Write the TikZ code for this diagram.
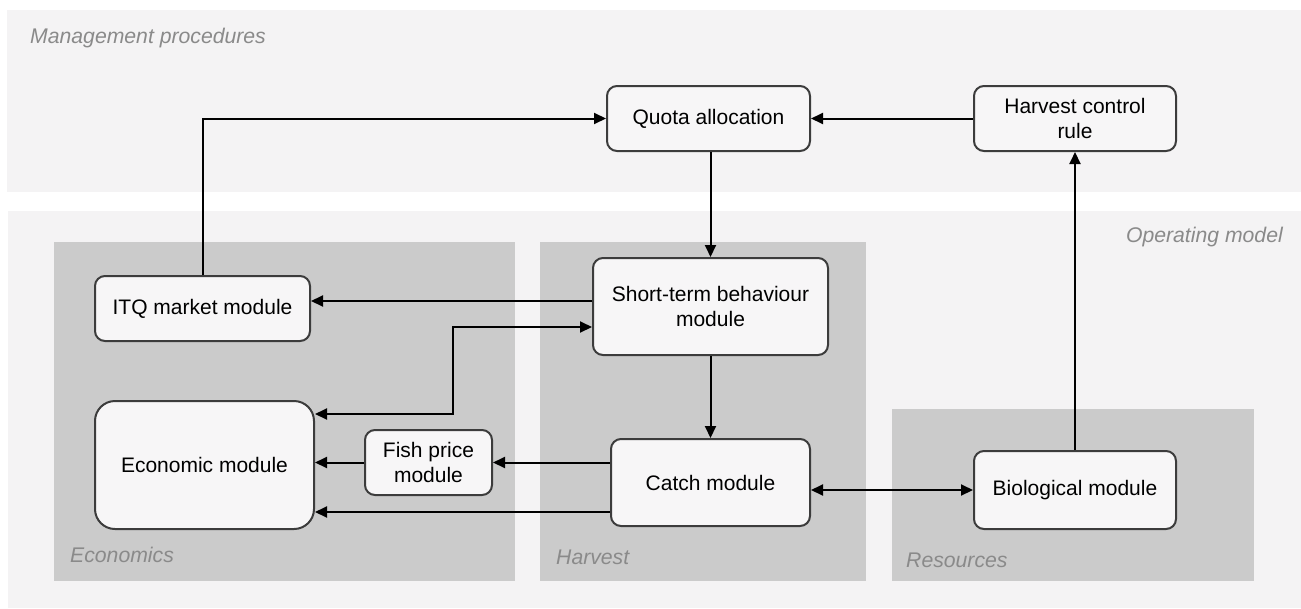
\documentclass[tikz,border=0pt]{standalone}
\usepackage{fontspec}
\setmainfont{Liberation Sans}
\usepackage{tikz}
\usetikzlibrary{arrows.meta}

\definecolor{panellight}{HTML}{F4F3F4}
\definecolor{paneldark}{HTML}{CBCBCB}
\definecolor{boxfill}{HTML}{F7F6F7}
\definecolor{boxline}{HTML}{3C3C3C}
\definecolor{labelgray}{HTML}{8A8A8A}

\begin{document}
\begin{tikzpicture}[x=1pt,y=-1pt,
  module/.style={draw=boxline, fill=boxfill, line width=2pt, rounded corners=10pt,
    align=center, inner sep=0pt, font=\fontsize{21}{25}\selectfont},
  arr/.style={line width=2pt, -{Triangle[length=12pt,width=11pt]}},
  arrboth/.style={line width=2pt, {Triangle[length=12pt,width=11pt]}-{Triangle[length=12pt,width=11pt]}},
  area/.style={inner sep=0pt, text=labelgray, font=\fontsize{21.2}{25}\selectfont\itshape}]
\useasboundingbox (0,0) rectangle (1301,608);

% Background panels
\fill[panellight] (7,10) rectangle (1301,192);
\fill[panellight] (8,211) rectangle (1301,608);
\fill[paneldark] (54,242) rectangle (515,581);
\fill[paneldark] (540,242) rectangle (866,581);
\fill[paneldark] (892,409) rectangle (1254,581);

% Panel labels
\node[area, anchor=base west] (mgmtlbl) at (30,43) {Management procedures};
\node[area, anchor=base east] (oplbl) at (1283,242) {Operating model};
\node[area, anchor=base west] (econlbl) at (70,562) {Economics};
\node[area, anchor=base west] (harvlbl) at (556,564) {Harvest};
\node[area, anchor=base west] (reslbl) at (906,567) {Resources};

% Modules
\node[module, minimum width=203pt, minimum height=65pt] (quota) at (708.5,118.5) {Quota allocation};
\node[module, minimum width=202pt, minimum height=65pt] (hcr) at (1075,118.5) {Harvest control\\rule};
\node[module, minimum width=215pt, minimum height=65pt] (itq) at (202.5,308.5) {ITQ market module};
\node[module, minimum width=235pt, minimum height=97pt] (stb) at (710.5,306.5) {Short-term behaviour\\module};
\node[module, minimum width=219pt, minimum height=128pt, rounded corners=20pt] (econ) at (204.5,465) {Economic module};
\node[module, minimum width=127pt, minimum height=65pt] (fish) at (428.5,462.5) {Fish price\\module};
\node[module, minimum width=199pt, minimum height=87pt] (catch) at (710.5,482.5) {Catch module};
\node[module, minimum width=202pt, minimum height=78pt] (bio) at (1075,490) {Biological module};

% Connectors
\draw[arr] (itq.north) |- (quota.west);
\draw[arr] (hcr.west) -- (quota.east);
\draw[arr] (stb.north |- quota.south) -- (stb.north);
\draw[arr] (stb.west |- 0,301) -- (itq.east |- 0,301);
\coordinate (turn) at (453,327);
\draw[arrboth] (stb.west |- turn) -- (turn) |- (econ.east |- 0,414);
\draw[arr] (stb.south) -- (catch.north);
\draw[arr] (catch.west |- fish.east) -- (fish.east);
\draw[arr] (fish.west) -- (econ.east |- fish.west);
\draw[arr] (catch.west |- 0,512) -- (econ.east |- 0,512);
\draw[arrboth] (catch.east |- bio.west) -- (bio.west);
\draw[arr] (bio.north) -- (hcr.south);

\end{tikzpicture}
\end{document}
